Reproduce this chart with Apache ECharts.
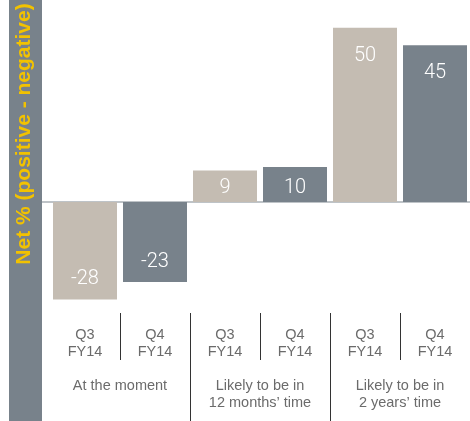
<!DOCTYPE html>
<html>
<head>
<meta charset="utf-8">
<script src="https://cdn.jsdelivr.net/npm/echarts@6/dist/echarts.min.js"></script>
<style>
html,body{margin:0;padding:0;background:#fff;}
#chart{width:470px;height:421px;}
</style>
</head>
<body>
<div id="chart"></div>
<script>
// ---- data ----
const quarters = ['Q3', 'Q4', 'Q3', 'Q4', 'Q3', 'Q4'];
const fiscalYears = ['FY14', 'FY14', 'FY14', 'FY14', 'FY14', 'FY14'];
const groups = ['At the moment', 'Likely to be in\n12 months\u2019 time', 'Likely to be in\n2 years\u2019 time'];
const values = [-28, -23, 9, 10, 50, 45];
const axisTitle = 'Net % (positive - negative)';

// ---- styles ----
const FONT = '"Liberation Sans", Arial, Helvetica, sans-serif';
const LIGHT = 'Roboto, "Liberation Sans", Arial, sans-serif';
const quarterColors = { Q3: '#c4bcb2', Q4: '#78828b' };
const bandColor = '#78828b';

const categories = quarters.map((q, i) => q + '\n' + fiscalYears[i]);

function labelFor(v) {
  if (v < 0) return { position: 'insideBottom', distance: 10 };
  if (v >= 30) return { position: 'insideTop', distance: 18 };
  return { position: 'insideBottom', distance: 4 };
}

const chart = echarts.init(document.getElementById('chart'), null, { renderer: 'canvas' });

const option = {
  animation: false,
  backgroundColor: '#ffffff',
  grid: { left: 50, width: 421, top: 0, bottom: 108, containLabel: false },
  xAxis: [
    {
      type: 'category',
      data: categories,
      position: 'bottom',
      axisLine: { show: false, onZero: false },
      axisTick: {
        show: true,
        interval: function (i) { return i % 2 === 1; },
        length: 47,
        lineStyle: { color: '#333333', width: 1 }
      },
      axisLabel: {
        interval: 0,
        margin: 13,
        fontFamily: FONT,
        fontSize: 14.5,
        lineHeight: 17.5,
        color: '#6b6b6b'
      }
    },
    {
      type: 'category',
      data: groups,
      position: 'bottom',
      axisLine: { show: false, onZero: false },
      axisTick: {
        show: true,
        interval: function (i) { return i >= 1; },
        length: 110,
        lineStyle: { color: '#333333', width: 1 }
      },
      axisLabel: {
        interval: 0,
        margin: 64,
        fontFamily: FONT,
        fontSize: 14.5,
        lineHeight: 17.5,
        color: '#6b6b6b'
      }
    }
  ],
  yAxis: {
    type: 'value',
    min: -31.9,
    max: 58,
    show: false,
    splitLine: { show: false }
  },
  series: [
    {
      type: 'bar',
      xAxisIndex: 0,
      barWidth: 64,
      data: values.map((v, i) => ({
        value: v,
        itemStyle: { color: quarterColors[quarters[i]] },
        label: labelFor(v)
      })),
      label: {
        show: true,
        color: '#ffffff',
        fontFamily: LIGHT,
        fontWeight: 300,
        fontSize: 20,
        formatter: '{c}'
      },
      z: 3
    }
  ]
};

chart.setOption(option);

// decoration: left band, rotated axis title, zero line (y from the value scale)
const zeroY = chart.convertToPixel({ yAxisIndex: 0 }, 0);
chart.setOption({
  graphic: [
    {
      type: 'rect', id: 'band', z: 0,
      shape: { x: 9, y: 0, width: 33, height: 421 },
      style: { fill: bandColor }
    },
    {
      type: 'line', id: 'zero', z: 1,
      shape: { x1: 42, y1: zeroY, x2: 470, y2: zeroY },
      style: { stroke: '#a9afb5', lineWidth: 1.5 }
    },
    {
      type: 'text', id: 'title', z: 5,
      x: 24, y: 134, rotation: Math.PI / 2,
      style: {
        text: axisTitle,
        fill: '#f2c200',
        font: 'bold 21px ' + FONT,
        align: 'center',
        verticalAlign: 'middle'
      }
    }
  ]
});
</script>
</body>
</html>
